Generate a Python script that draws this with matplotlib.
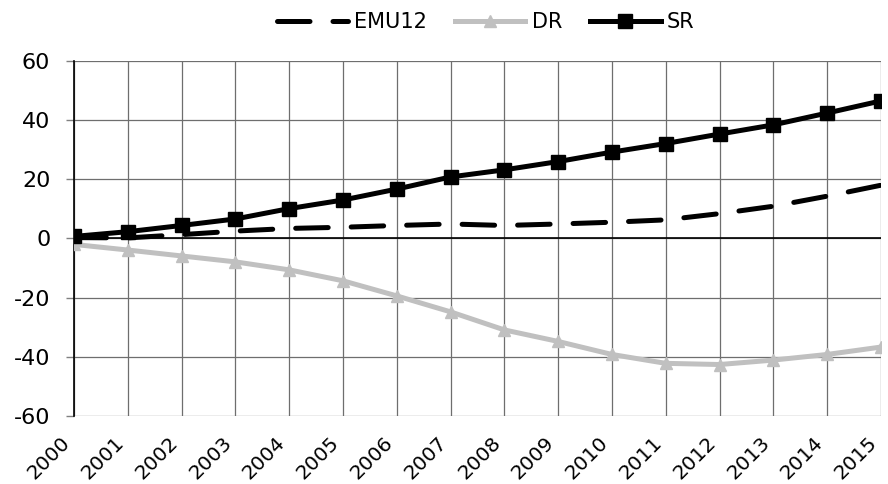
import matplotlib
matplotlib.use('Agg')
import matplotlib.pyplot as plt
import matplotlib.transforms as mtransforms

years = list(range(2000, 2016))
emu12 = [0.3, 0.2, 1.3, 2.5, 3.4, 3.8, 4.4, 4.9, 4.4, 4.9, 5.5, 6.3, 8.4, 10.9, 14.3, 18.0]
dr = [-2.0, -3.9, -5.9, -7.9, -10.6, -14.3, -19.4, -24.8, -30.9, -34.8, -39.2, -42.2, -42.6, -41.1, -39.2, -36.7]
sr = [0.7, 2.3, 4.4, 6.6, 10.1, 13.0, 16.7, 20.8, 23.2, 26.0, 29.2, 32.1, 35.3, 38.4, 42.4, 46.5]

plt.rcParams['font.family'] = 'DejaVu Sans'
plt.rcParams['axes.unicode_minus'] = False

fig = plt.figure(figsize=(8.88, 4.84), dpi=100)
ax = fig.add_axes([0.0833, 0.1405, 0.9087, 0.7335])

ax.plot(years, emu12, color='black', lw=3.6, dashes=(6.5, 4.6), dash_capstyle='round',
        label='EMU12', zorder=3)
ax.plot(years, dr, color='#c0c0c0', lw=3.6, marker='^', ms=9, label='DR', zorder=4)
ax.plot(years, sr, color='black', lw=3.6, marker='s', ms=9.5, label='SR', zorder=5)

ax.set_xlim(2000, 2015)
ax.set_ylim(-60, 60)
ax.set_xticks(years)
ax.set_yticks(range(-60, 61, 20))
ax.set_xticklabels([str(y) for y in years], rotation=45, ha='right', va='top', fontsize=14.5)
# nudge the rotated year labels a little to the right, like the original
shift = mtransforms.ScaledTranslation(5 / 100, 0, fig.dpi_scale_trans)
for lab in ax.get_xticklabels():
    lab.set_transform(lab.get_transform() + shift)
ax.tick_params(axis='y', labelsize=16, length=6, width=1, pad=11, color='#808080')
ax.tick_params(axis='x', length=0, pad=12)

ax.grid(True, color='#6e6e6e', lw=0.9)
for s in ['top', 'right', 'bottom']:
    ax.spines[s].set_visible(False)
ax.spines['left'].set_color('black')
ax.spines['left'].set_linewidth(1.2)
ax.axhline(0, color='black', lw=1.2, zorder=2)

fig.legend(*ax.get_legend_handles_labels(), loc='center', bbox_to_anchor=(0.547, 0.9545),
           ncol=3, frameon=False, fontsize=15, handlelength=3.4, handletextpad=0.3,
           columnspacing=1.33, borderaxespad=0, borderpad=0)

fig.savefig('out.png', dpi=100)
